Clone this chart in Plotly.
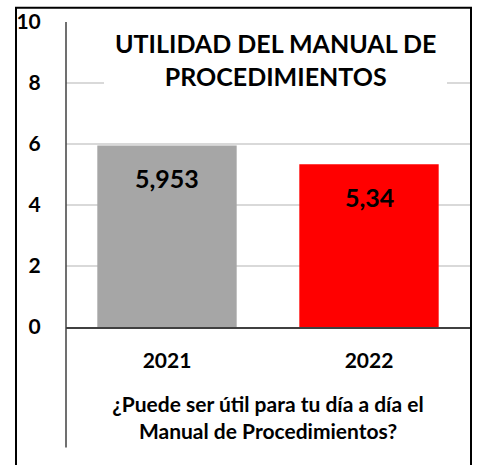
import plotly.graph_objects as go

# --------------------------------------------------
# Data
# --------------------------------------------------
years = ["2021", "2022"]
values = [5.953, 5.34]
bar_colors = ["#a6a6a6", "#ff0000"]
y_ticks = [0, 2, 4, 6, 8, 10]

chart_title = "UTILIDAD DEL MANUAL DE<br>PROCEDIMIENTOS"
x_title = "¿Puede ser útil para tu día a día el<br>Manual de Procedimientos?"

FONT = "Lato"

fig = go.Figure()

fig.add_trace(go.Bar(
    x=years,
    y=values,
    marker=dict(color=bar_colors, line=dict(width=0)),
    width=0.69,
    showlegend=False,
    hoverinfo="skip"
))

# data labels, inside the bars below the top
# (category index as x, a "2021" string would be read as a number)
for i, v in enumerate(values):
    fig.add_annotation(
        x=i, y=v, xref="x", yref="y",
        text=f"{v:g}".replace(".", ","),
        showarrow=False,
        xanchor="center",
        yanchor="top",
        yshift=-16,
        font=dict(family=FONT, size=25, color="#000000", weight="bold")
    )

# title box (white, hides gridlines behind it)
fig.add_shape(
    type="rect", xref="paper", yref="paper",
    x0=(104 - 66) / 404, x1=(447 - 66) / 404,
    y0=(327 - 100) / 309, y1=(327 - 16.5) / 309,
    fillcolor="white", line=dict(width=0), layer="above"
)
fig.add_annotation(
    x=(275 - 66) / 404, y=(327 - 56) / 309, xref="paper", yref="paper",
    text=chart_title,
    showarrow=False,
    xanchor="center",
    yanchor="middle",
    font=dict(family=FONT, size=25, color="#000000", weight="bold")
)

# vertical axis line extended down past the category labels
fig.add_shape(
    type="line", xref="paper", yref="paper",
    x0=0, x1=0, y0=(327 - 449) / 309, y1=1,
    line=dict(color="#404040", width=1.5), layer="above"
)

# outer frame
fig.add_shape(
    type="rect", xref="paper", yref="paper",
    x0=(16 - 66) / 404, x1=(471 - 66) / 404,
    y0=(327 - 472) / 309, y1=(327 - 3.5) / 309,
    line=dict(color="#000000", width=2), fillcolor="rgba(0,0,0,0)"
)

fig.update_layout(
    width=478,
    height=465,
    margin=dict(l=66, r=8, t=18, b=138),
    paper_bgcolor="white",
    plot_bgcolor="white",
    font=dict(family=FONT, color="#000000"),
    xaxis=dict(
        type="category",
        range=[-0.5, 1.5],
        showline=True,
        linecolor="#404040",
        linewidth=1.5,
        ticks="outside",
        ticklen=14,
        tickcolor="rgba(0,0,0,0)",
        tickfont=dict(family=FONT, size=21, color="#000000", weight="bold"),
        title=dict(
            text=x_title,
            font=dict(family=FONT, size=21, color="#000000", weight="bold"),
            standoff=26
        )
    ),
    yaxis=dict(
        range=[0, 10],
        tickvals=y_ticks,
        showgrid=True,
        gridcolor="#d9d9d9",
        gridwidth=1.5,
        zeroline=False,
        showline=False,
        ticks="outside",
        ticklen=20,
        tickcolor="rgba(0,0,0,0)",
        tickfont=dict(family=FONT, size=21, color="#000000", weight="bold")
    )
)

fig.write_html(
    "out.html",
    config={"displayModeBar": False},
    post_script="document.body.style.margin='0';"
)
